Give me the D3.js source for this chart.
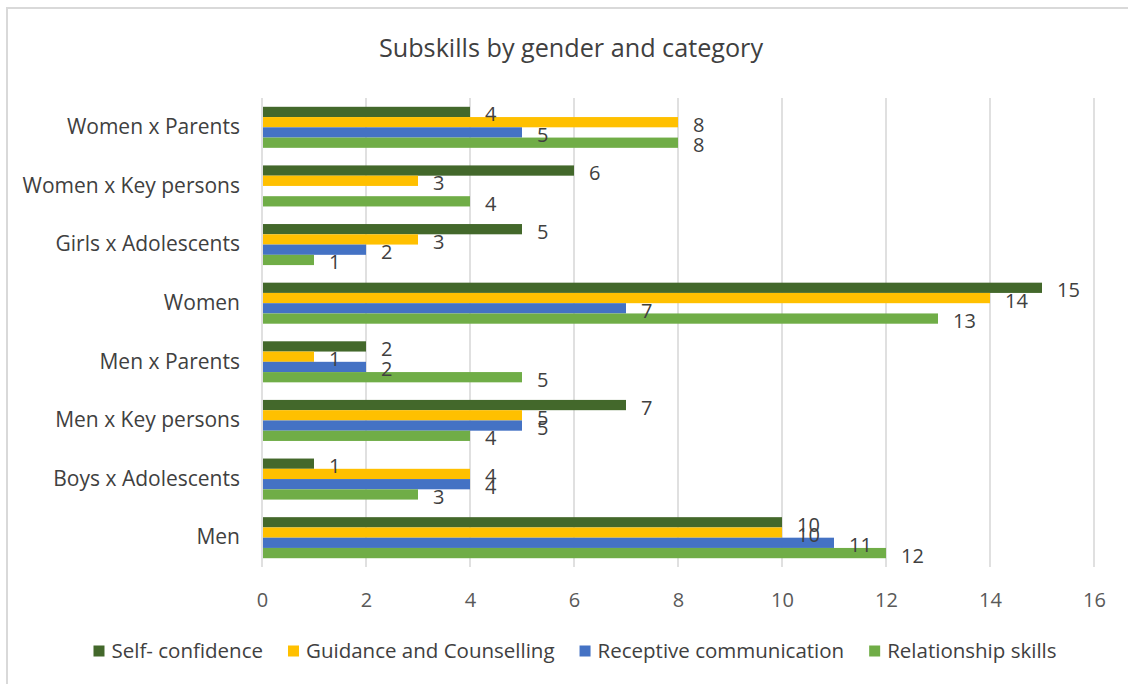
<!DOCTYPE html>
<html>
<head>
<meta charset="utf-8">
<script src="https://cdn.jsdelivr.net/npm/d3@7"></script>
<style>
  html, body { margin: 0; padding: 0; background: #fff; }
  svg { display: block; font-family: "Open Sans", "Noto Sans", sans-serif; }
</style>
</head>
<body>
<svg id="chart" width="1128" height="684"></svg>
<script>
// Categories, top to bottom
const categories = [
  "Women x Parents",
  "Women x Key persons",
  "Girls x Adolescents",
  "Women",
  "Men x Parents",
  "Men x Key persons",
  "Boys x Adolescents",
  "Men"
];

const seriesNames = [
  "Self- confidence",
  "Guidance and Counselling",
  "Receptive communication",
  "Relationship skills"
];

// Counts per category (null = no bar)
const selfConfidence = [4, 6, 5, 15, 2, 7, 1, 10];
const guidanceCounselling = [8, 3, 3, 14, 1, 5, 4, 10];
const receptiveCommunication = [5, null, 2, 7, 2, 5, 4, 11];
const relationshipSkills = [8, 4, 1, 13, 5, 4, 3, 12];

const xTickValues = [0, 2, 4, 6, 8, 10, 12, 14, 16];
const seriesColors = ["#43682B", "#FFC000", "#4472C4", "#70AD47"];

const seriesValues = [selfConfidence, guidanceCounselling, receptiveCommunication, relationshipSkills];

const svg = d3.select("#chart");
const W = 1128, H = 684;
const plot = { left: 262, right: 1094, top: 98, bottom: 567 };

// Outer chart frame
svg.append("rect")
  .attr("x", 7).attr("y", 8)
  .attr("width", W + 20).attr("height", H + 20)
  .attr("fill", "#fff")
  .attr("stroke", "#d9d9d9").attr("stroke-width", 2);

// Title
svg.append("text")
  .attr("x", 571).attr("y", 57)
  .attr("text-anchor", "middle")
  .attr("font-size", 25.2)
  .attr("fill", "#404040")
  .text("Subskills by gender and category");

const x = d3.scaleLinear().domain([0, 16]).range([plot.left, plot.right]);
const y0 = d3.scaleBand().domain(categories).range([plot.top, plot.bottom]).padding(0);
const bw = y0.bandwidth();
const y1 = d3.scaleBand().domain(seriesNames).range([bw * 0.15, bw * 0.85]).padding(0);

// Vertical gridlines
svg.append("g")
  .selectAll("line")
  .data(xTickValues)
  .join("line")
  .attr("x1", d => x(d)).attr("x2", d => x(d))
  .attr("y1", plot.top).attr("y2", plot.bottom)
  .attr("stroke", "#d9d9d9").attr("stroke-width", 1.6);

// Axis tick labels
const xAxis = d3.axisBottom(x).tickValues(xTickValues).tickSize(0).tickPadding(0);
const gx = svg.append("g")
  .attr("transform", `translate(0,${plot.bottom})`)
  .call(xAxis);
gx.select(".domain").remove();
gx.selectAll("text")
  .attr("y", 33)
  .attr("dy", "0.35em")
  .attr("font-size", 20)
  .attr("font-family", "'Open Sans', sans-serif")
  .attr("fill", "#595959");

// Category labels
const yAxis = d3.axisLeft(y0).tickSize(0).tickPadding(0);
const gy = svg.append("g")
  .attr("transform", `translate(${plot.left},0)`)
  .call(yAxis);
gy.select(".domain").remove();
gy.selectAll("text")
  .attr("x", -22)
  .attr("font-size", 21)
  .attr("font-family", "'Open Sans', sans-serif")
  .attr("fill", "#404040");

// Build flat record list
const records = [];
categories.forEach((c, i) => {
  seriesNames.forEach((s, j) => {
    const v = seriesValues[j][i];
    if (v !== null && v !== undefined) records.push({ cat: c, series: s, idx: j, value: v });
  });
});

// Bars
svg.append("g")
  .selectAll("rect")
  .data(records)
  .join("rect")
  .attr("x", x(0) + 1)
  .attr("y", d => y0(d.cat) + y1(d.series))
  .attr("width", d => x(d.value) - x(0) - 1)
  .attr("height", y1.bandwidth())
  .attr("fill", d => seriesColors[d.idx]);

// Value labels
svg.append("g")
  .selectAll("text")
  .data(records)
  .join("text")
  .attr("x", d => x(d.value) + 15)
  .attr("y", d => y0(d.cat) + y1(d.series) + y1.bandwidth() / 2 + 2.5)
  .attr("dy", "0.35em")
  .attr("font-size", 20)
  .attr("fill", "#404040")
  .text(d => d.value);

// Legend
const legend = svg.append("g");
const items = legend.selectAll("g")
  .data(seriesNames)
  .join("g");
items.append("rect")
  .attr("width", 11).attr("height", 11)
  .attr("y", -5.5)
  .attr("fill", (d, i) => seriesColors[i]);
items.append("text")
  .attr("x", 18)
  .attr("dy", "0.35em")
  .attr("font-size", 20.5)
  .attr("fill", "#404040")
  .text(d => d);
let offset = 0;
const positions = [];
items.each(function () {
  const w = d3.select(this).select("text").node().getComputedTextLength();
  positions.push(offset);
  offset += 18 + w + 25;
});
const totalW = offset - 25;
const startX = 575 - totalW / 2;
items.attr("transform", (d, i) => `translate(${startX + positions[i]},651)`);
</script>
</body>
</html>
